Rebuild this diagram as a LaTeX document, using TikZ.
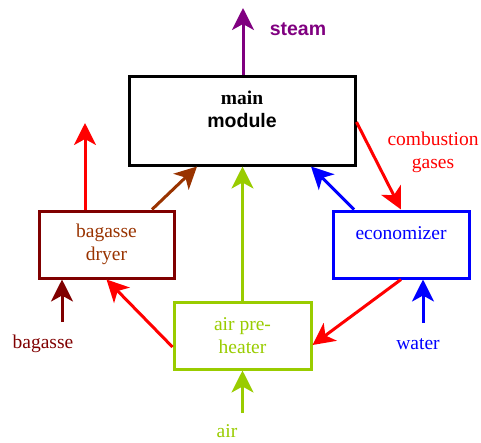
\documentclass[tikz,border=0pt]{standalone}
\usepackage{fontspec}
\setmainfont{Liberation Serif}
\newfontfamily\headfont{Liberation Sans}
\usetikzlibrary{arrows.meta}
\definecolor{steampurple}{HTML}{800080}
\definecolor{dryermaroon}{HTML}{800000}
\definecolor{dryerbrown}{HTML}{993300}
\definecolor{airgreen}{HTML}{99CC00}

\begin{document}
\begin{tikzpicture}[x=1pt, y=-1pt,
        unit/.style={draw, line width=3pt, align=center, inner sep=0pt, font=\fontsize{19.5}{23}\selectfont},
        flow/.style={line width=3pt, -{Stealth[length=22pt, width=22pt, inset=6pt]}},
        tag/.style={align=center, font=\fontsize{19.5}{23}\selectfont}]
    \useasboundingbox (0, 0) rectangle (481, 442);

    \node [unit, minimum width=226pt, minimum height=89pt] (main) at (242, 120.5) {\textbf{main}\\{\headfont\bfseries module}\\~};
    \node [unit, draw=dryermaroon, text=dryerbrown, minimum width=135pt, minimum height=67pt] (dryer) at (106.5, 244.5) {bagasse\\dryer};
    \node [unit, draw=blue, text=blue, minimum width=136pt, minimum height=67pt] (econ) at (401, 244.5) {economizer\\~};
    \node [unit, draw=airgreen, text=airgreen, minimum width=137pt, minimum height=67pt] (preheater) at (242.5, 335.5) {air pre-\\heater};

    \node [tag, text=steampurple] (steam) at (298, 29) {\headfont\bfseries steam};
    \node [tag, text=red] (gases) at (433, 152) {combustion\\gases};
    \node [tag, text=dryermaroon] (bagasse) at (43, 344) {bagasse};
    \node [tag, text=blue] (water) at (418, 344) {water};
    \node [tag, text=airgreen] (air) at (227, 431) {air};

    \coordinate (steamtip) at (243, 8);
    \coordinate (exhausttip) at (85, 123);
    \coordinate (bagassein) at (62, 322);
    \coordinate (waterin) at (423, 323);
    \coordinate (airin) at (242.5, 413);

    \draw [flow, steampurple] (main.north -| steamtip) -- (steamtip);
    \draw [flow, red] (dryer.north -| exhausttip) -- (exhausttip);
    \draw [flow, dryerbrown] ([xshift=45.5pt] dryer.north) -- ([xshift=-45pt] main.south);
    \draw [flow, airgreen] (preheater.north) -- (preheater.north |- main.south);
    \draw [flow, blue] ([xshift=-47pt] econ.north) -- ([xshift=69pt] main.south);
    \draw [flow, red] ([yshift=-1.5pt] main.east) -- (econ.north);
    \draw [flow, red] (econ.south) -- ([yshift=-9.5pt] preheater.east);
    \draw [flow, red] ([yshift=-11.5pt] preheater.west) -- (dryer.south);
    \draw [flow, dryermaroon] (bagassein) -- (dryer.south -| bagassein);
    \draw [flow, blue] (waterin) -- (econ.south -| waterin);
    \draw [flow, airgreen] (airin) -- (preheater.south);
\end{tikzpicture}
\end{document}
